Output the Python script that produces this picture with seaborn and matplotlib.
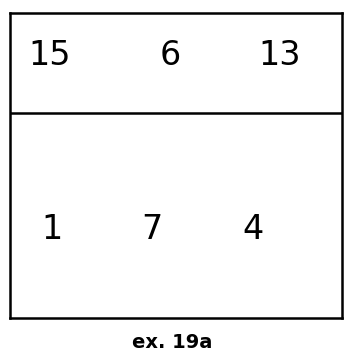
import matplotlib.pyplot as plt
import seaborn as sns

# values in the two rows of the sketch
top_row = ["15", "6", "13"]
bottom_row = ["1", "7", "4"]
caption = "ex. 19a"

# hand placed column centres (box units, 0..3) for each row
top_x = [0.36, 1.45, 2.44]
bottom_x = [0.38, 1.28, 2.20]
divider_y = 0.672

sns.set_style("white")
plt.rcParams["font.family"] = ["DejaVu Sans"]

fig = plt.figure(figsize=(3.47, 3.55), dpi=100)
ax = fig.add_axes([10 / 347, 37 / 355, 332 / 347, 305 / 355])
ax.set_xlim(0, 3)
ax.set_ylim(0, 1)
ax.set_xticks([])
ax.set_yticks([])
for spine in ax.spines.values():
    spine.set_visible(True)
    spine.set_color("black")
    spine.set_linewidth(1.8)

sns.lineplot(x=[0, 3], y=[divider_y, divider_y], color="black", linewidth=1.8, ax=ax)

for x, label in zip(top_x, top_row):
    ax.text(x, 0.86, label, fontsize=24, ha="center", va="center", color="black")
for x, label in zip(bottom_x, bottom_row):
    ax.text(x, 0.29, label, fontsize=24, ha="center", va="center", color="black")

fig.text(172 / 347, 1 - 342 / 355, caption, fontsize=14, fontweight="bold",
         ha="center", va="center", color="black")

fig.savefig("out.png", dpi=100, facecolor="white")
